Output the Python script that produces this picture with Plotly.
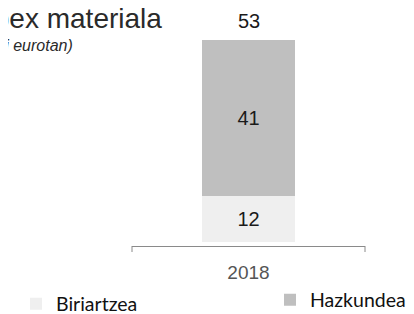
import plotly.graph_objects as go

# Data
years = ["2018"]
biriartzea = [12]
hazkundea = [41]
series_names = ["Biriartzea", "Hazkundea"]
title_text = "Capex materiala"
subtitle_text = "(milioi eurotan)"

totals = [b + h for b, h in zip(biriartzea, hazkundea)]

# the page puts the figure at (8, 8): work in screen pixels, convert below
OFF = 8
W, H = 414 - OFF, 314 - OFF
ML, MR, MT, MB = 132 - OFF, 49, 17 - OFF, 68
PW, PH = W - ML - MR, H - MT - MB


def px_x(p):
    return (p - OFF - ML) / PW


def px_y(p):
    return (H - MB - (p - OFF)) / PH


fig = go.Figure()
fig.add_trace(go.Bar(
    x=years, y=biriartzea, name=series_names[0],
    marker=dict(color="#efefef", line=dict(width=0)),
    text=[str(v) for v in biriartzea], textposition="inside",
    insidetextanchor="middle",
    textfont=dict(family="Liberation Sans", size=20, color="#1a1a1a"),
    width=0.4, legend="legend",
))
fig.add_trace(go.Bar(
    x=years, y=hazkundea, name=series_names[1],
    marker=dict(color="#bfbfbf", line=dict(width=0)),
    text=[str(v) for v in hazkundea], textposition="inside",
    insidetextanchor="middle",
    textfont=dict(family="Liberation Sans", size=20, color="#1a1a1a"),
    width=0.4, legend="legend2",
))

# totals above the stacks (category index on the x axis)
for i, t in enumerate(totals):
    fig.add_annotation(x=i, y=t, xref="x", yref="y", text=str(t),
                       showarrow=False, yanchor="bottom", yshift=6,
                       font=dict(family="Liberation Sans", size=20, color="#1a1a1a"))

# Title & subtitle (cut off on the left like the reference)
fig.add_annotation(x=px_x(164), y=px_y(18), xref="paper", yref="paper",
                   text=title_text, showarrow=False, xanchor="right", yanchor="middle",
                   font=dict(family="Liberation Sans", size=28, color="#2a2a2a"))
fig.add_annotation(x=px_x(75), y=px_y(46), xref="paper", yref="paper",
                   text="<i>" + subtitle_text + "</i>", showarrow=False,
                   xanchor="right", yanchor="middle",
                   font=dict(family="Liberation Sans", size=16, color="#2a2a2a"))

# bracket ends of the axis
for xp in (0, 1):
    fig.add_shape(type="line", xref="paper", yref="paper",
                  x0=xp, x1=xp, y0=0, y1=-6 / PH,
                  line=dict(color="#8a8a8a", width=1))

fig.update_layout(
    width=W, height=H,
    margin=dict(l=ML, r=MR, t=MT, b=MB, autoexpand=False),
    paper_bgcolor="white", plot_bgcolor="white",
    barmode="stack",
    xaxis=dict(type="category", showline=True, linecolor="#8a8a8a", linewidth=1,
               showgrid=False, zeroline=False, automargin=False,
               range=[-0.5, 0.5],
               ticks="outside", ticklen=9, tickcolor="rgba(0,0,0,0)",
               tickfont=dict(family="Liberation Sans", size=19, color="#555555")),
    yaxis=dict(visible=False, range=[-1, 59]),
    legend=dict(x=px_x(16), y=px_y(304), xanchor="left", yanchor="middle",
                font=dict(family="Lato", size=19.5, color="#111111"),
                bgcolor="rgba(0,0,0,0)", itemclick=False),
    legend2=dict(x=px_x(270), y=px_y(300), xanchor="left", yanchor="middle",
                 font=dict(family="Lato", size=19.5, color="#111111"),
                 bgcolor="rgba(0,0,0,0)", itemclick=False),
    showlegend=True,
)

fig.write_html("out.html")
